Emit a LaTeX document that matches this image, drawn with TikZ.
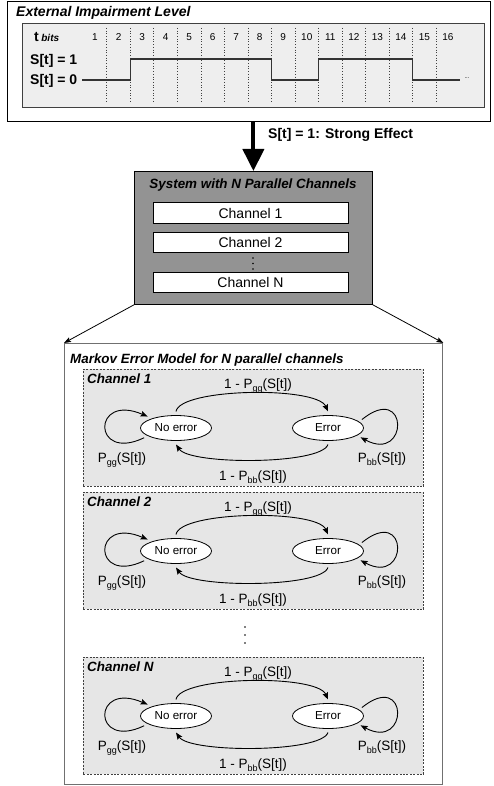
\documentclass[tikz,border=0pt]{standalone}
\usepackage{fontspec}
\setmainfont{Liberation Sans}
\usetikzlibrary{arrows.meta,shapes.geometric,calc}

\newcommand\fsz[1]{\fontsize{#1}{#1}\selectfont}
\newcommand\lowtxt[1]{\raisebox{-0.28em}{\fsz{9}#1}}

\definecolor{panelgrey}{HTML}{E6E6E6}
\definecolor{plotgrey}{HTML}{EEEEEE}
\definecolor{sysgrey}{HTML}{939393}
\definecolor{framegrey}{HTML}{707070}

\tikzset{
  boxtitle/.style={font=\fsz{13.4}\bfseries\itshape, inner sep=0pt},
  tlabel/.style={font=\fsz{13.5}, inner sep=0pt, anchor=base},
  state/.style={ellipse, draw, line width=0.8pt, fill=white, minimum width=71pt,
    minimum height=25pt, inner sep=0pt, outer sep=4pt, font=\fsz{11.6}},
  trans/.style={draw, line width=0.9pt, -{Stealth[length=7pt,width=5.5pt,inset=1.2pt]}},
  panel/.style={draw=black!75, dashed, dash pattern=on 2pt off 1.4pt, line width=0.7pt,
    fill=panelgrey, minimum width=340pt, minimum height=117pt, anchor=north west, inner sep=0pt},
  chanbox/.style={draw, line width=0.8pt, fill=white, minimum width=195pt, minimum height=20.5pt,
    inner sep=0pt, font=\fsz{14}},
  thinarrow/.style={draw, line width=0.8pt, -{Stealth[length=7pt,width=5pt,inset=1.2pt]}},
  bigarrow/.style={draw, line width=4pt, -{Triangle[length=22pt,width=21pt]}},
  signal/.style={draw=black!80, line width=1.3pt},
  gridline/.style={draw=black!75, dotted, line width=0.7pt}
}

\begin{document}
\begin{tikzpicture}[x=1pt,y=-1pt]
\useasboundingbox (0,0) rectangle (493,786);

% ---- external impairment level ----
\node[draw, line width=0.8pt, minimum width=483pt, minimum height=120pt, anchor=north west, inner sep=0pt] (ext) at (7,1) {};
\node[boxtitle, font=\fsz{14}\bfseries\itshape, anchor=base west] (exttitle) at (16,17) {External Impairment Level};
\node[draw=black!75, line width=0.8pt, fill=plotgrey, minimum width=462pt, minimum height=84pt, anchor=north west, inner sep=0pt] (plot) at (22,23) {};

\foreach \i in {1,...,15}
  \draw[gridline] ({95+(\i-0.5)*23.53},28) -- ++(0,74);
\foreach \i in {1,...,16}
  \node[font=\fsz{10}, anchor=base, inner sep=0pt] (bit\i) at ({95+(\i-1)*23.53},41) {\i};

\node[font=\fsz{14}\bfseries, anchor=base west, inner sep=0pt] (tbits) at (34,42) {t\hspace{2.5pt}{\fsz{10}\itshape bits}};
\node[font=\fsz{14}\bfseries, anchor=base west, inner sep=0pt] (s1) at (30,65) {S[t] = 1};
\node[font=\fsz{14}\bfseries, anchor=base west, inner sep=0pt] (s0) at (30,85) {S[t] = 0};

\draw[signal] (82,80) -- (130.3,80) -- (130.3,59) -- (271.5,59) -- (271.5,80)
  -- (318.5,80) -- (318.5,59) -- (412.7,59) -- (412.7,80) -- (460,80);
\node[font=\fsz{6}, inner sep=0pt] (more) at (467,78.5) {...};

% ---- system with parallel channels ----
\node[draw, line width=0.8pt, fill=sysgrey, minimum width=238pt, minimum height=133pt, anchor=north west, inner sep=0pt] (sys) at (134,171) {};
\node[boxtitle, anchor=base] (systitle) at (253,189) {System with N Parallel Channels};
\node[chanbox] (c1) at (250.5,213) {Channel 1};
\node[chanbox] (c2) at (250.5,242.5) {Channel 2};
\node[chanbox] (cN) at (250.5,282.5) {Channel N};
\foreach \y in {258,263.5,269}
  \fill (253,\y) circle (0.8pt);

\draw[bigarrow] (ext.south -| sys.north) -- (sys.north);
\node[font=\fsz{14}\bfseries, anchor=base west, inner sep=0pt] (effect) at (268,139) {S[t] = 1: Strong Effect};

% ---- Markov error model ----
\node[draw=framegrey, line width=1.4pt, fill=white, minimum width=378pt, minimum height=441pt, anchor=north west, inner sep=0pt] (mk) at (64,343) {};
\draw[thinarrow] (sys.south west) -- (mk.north west);
\draw[thinarrow] (sys.south east) -- (mk.north east);
\node[boxtitle, anchor=base west] (mktitle) at (70,363) {Markov Error Model for N parallel channels};

\foreach \lab/\T/\k in {1/369/a, 2/492/b, N/657/c}{
  \node[panel] (pan\k) at (83,\T) {};
  \node[boxtitle, anchor=base west] (ptitle\k) at (87,\T+14.5) {Channel \lab};
  \node[state] (ne\k) at (176,\T+59) {No error};
  \node[state] (er\k) at (328,\T+59) {Error};
  \draw[trans] (ne\k.north) .. controls +(4,-23.5) and +(-11,-25.5) .. (er\k.north);
  \draw[trans] (er\k.south) .. controls +(-7,20.5) and +(14,20.5) .. (ne\k.south);
  \draw[trans] (ne\k.197) .. controls +(-52,25) and +(-56,-24) .. (ne\k.158);
  \draw[trans] (er\k.14) .. controls +(47,-38) and +(48.5,26) .. (er\k.344);
  \node[tlabel] (lgb\k) at (258,\T+19) {1 - P\lowtxt{gg}(S[t])};
  \node[tlabel] (lbg\k) at (253,\T+111) {1 - P\lowtxt{bb}(S[t])};
  \node[tlabel] (lgg\k) at (122,\T+93) {P\lowtxt{gg}(S[t])};
  \node[tlabel] (lbb\k) at (382,\T+93) {P\lowtxt{bb}(S[t])};
}
\foreach \y in {627,635,643}
  \fill (245,\y) circle (0.8pt);

\end{tikzpicture}
\end{document}
